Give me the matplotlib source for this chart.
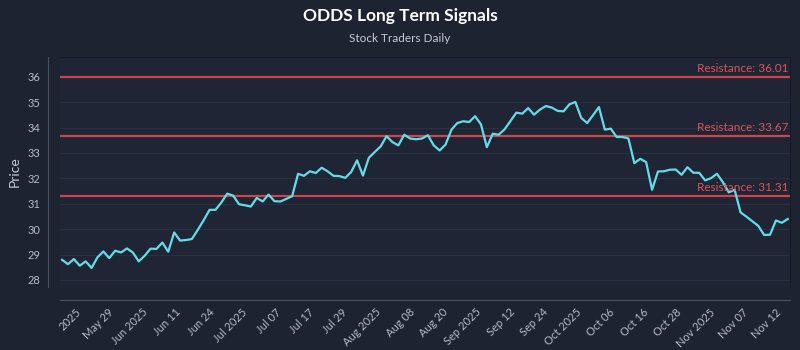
import numpy as np
import matplotlib.pyplot as plt

# Data
prices = [28.79, 28.62, 28.82, 28.56, 28.73, 28.47, 28.89, 29.12, 28.86, 29.15,
          29.08, 29.24, 29.08, 28.73, 28.95, 29.23, 29.22, 29.47, 29.11, 29.87,
          29.55, 29.57, 29.61, 29.97, 30.35, 30.76, 30.76, 31.05, 31.40, 31.32,
          30.98, 30.94, 30.89, 31.23, 31.09, 31.36, 31.10, 31.09, 31.19, 31.30,
          32.18, 32.10, 32.28, 32.21, 32.42, 32.28, 32.10, 32.09, 32.02, 32.25,
          32.71, 32.11, 32.81, 33.04, 33.26, 33.66, 33.43, 33.30, 33.72, 33.57,
          33.54, 33.57, 33.70, 33.30, 33.10, 33.33, 33.92, 34.18, 34.25, 34.22,
          34.45, 34.13, 33.23, 33.76, 33.72, 33.93, 34.26, 34.59, 34.55, 34.77,
          34.51, 34.71, 34.85, 34.79, 34.66, 34.64, 34.92, 35.01, 34.38, 34.18,
          34.49, 34.81, 33.92, 33.96, 33.63, 33.63, 33.57, 32.60, 32.77, 32.64,
          31.55, 32.27, 32.28, 32.34, 32.35, 32.14, 32.44, 32.22, 32.22, 31.92,
          32.01, 32.18, 31.85, 31.45, 31.55, 30.66, 30.49, 30.31, 30.13, 29.77,
          29.78, 30.34, 30.25, 30.40]
resistance = [36.01, 33.67, 31.31]
tick_labels = ['2025', 'May 29', 'Jun 2025', 'Jun 11', 'Jun 24', 'Jul 2025',
               'Jul 07', 'Jul 17', 'Jul 29', 'Aug 2025', 'Aug 08', 'Aug 20',
               'Sep 2025', 'Sep 12', 'Sep 24', 'Oct 2025', 'Oct 06', 'Oct 16',
               'Oct 28', 'Nov 2025', 'Nov 07', 'Nov 12']

bg = '#1e2332'
plt.rcParams['font.family'] = ['Lato', 'DejaVu Sans']

fig = plt.figure(figsize=(8, 3.5), dpi=100, facecolor=bg)
ax = fig.add_axes([0.075, 0.18, 0.913, 0.657])
ax.set_facecolor('#1f2535')

# spines first: set_position resets the ticks
for s in ['top', 'right']:
    ax.spines[s].set_color('#151a25')
for s in ['left', 'bottom']:
    ax.spines[s].set_position(('outward', 9))
    ax.spines[s].set_color('#4a5062')

x = np.arange(len(prices))
ax.plot(x, prices, color='#62dde8', lw=1.6, zorder=3)

for r in resistance:
    ax.axhline(r, color='#c9474c', lw=1.6, zorder=2)
    ax.text(len(prices) - 0.9, r + 0.12, f'Resistance: {r:.2f}', color='#d9545a',
            fontsize=8.5, ha='right', va='bottom', zorder=4)

ax.set_xlim(-0.35, len(prices) - 0.55)
ax.set_ylim(27.72, 36.78)
ax.set_yticks(range(28, 37))
ax.grid(axis='y', color='#283042', lw=0.8)
ax.set_axisbelow(True)

ax.tick_params(colors='#b4b9c6', labelsize=8, length=0, pad=5)

# ticks spread evenly along the index axis
ticks = np.linspace(3.5, len(prices) - 1.7, len(tick_labels))
ax.set_xticks(ticks)
ax.set_xticklabels(tick_labels, rotation=45, ha='right', va='top')

ax.set_ylabel('Price', color='#c4c8d2', fontsize=10, labelpad=5)

fig.text(0.5, 0.955, 'ODDS Long Term Signals', ha='center', va='center',
         color='white', fontsize=12.5, fontweight='bold')
fig.text(0.5, 0.89, 'Stock Traders Daily', ha='center', va='center',
         color='#c4c8d2', fontsize=8.5)

fig.savefig('out.png', dpi=100, facecolor=bg)
